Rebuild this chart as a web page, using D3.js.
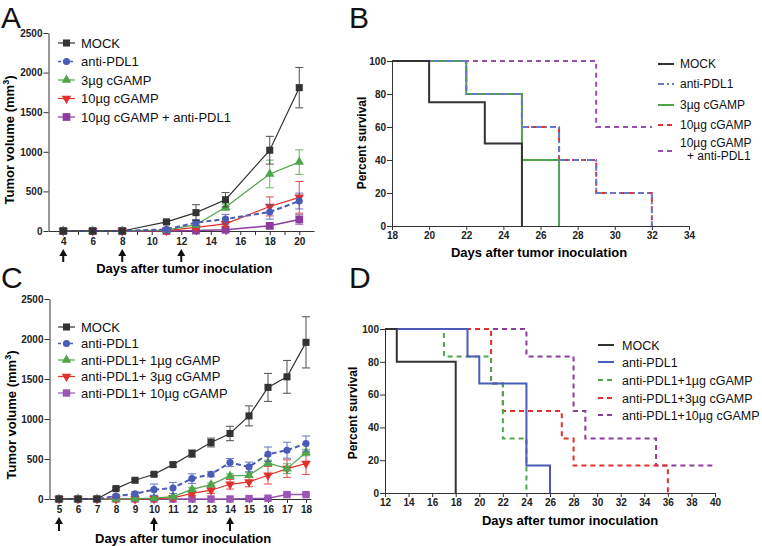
<!DOCTYPE html>
<html>
<head>
<meta charset="utf-8">
<script src="https://cdn.jsdelivr.net/npm/d3@7"></script>
<style>
  body { margin: 0; background: #fff; }
  svg { font-family: Arial, "Liberation Sans", sans-serif; }
  .tick text { font-weight: bold; font-size: 10px; fill: #222; }
  .domain, .tick line { stroke: #333; stroke-width: 1; }
</style>
</head>
<body>
<script>
// ---- panel A : tumor growth ----
var daysA = [4, 6, 8, 11, 13, 15, 18, 20];
var mockA = [0, 0, 0, 115, 232, 395, 1020, 1810];
var mockAErr = [0, 0, 0, 20, 100, 90, 175, 255];
var pdl1A = [0, 0, 0, 20, 106, 150, 240, 378];
var pdl1AErr = [0, 0, 0, 10, 40, 60, 90, 100];
var cg3A = [0, 0, 0, 10, 80, 300, 720, 870];
var cg3AErr = [0, 0, 0, 5, 30, 40, 175, 155];
var cg10A = [0, 0, 0, 5, 45, 90, 310, 425];
var cg10AErr = [0, 0, 0, 5, 20, 30, 120, 200];
var comboA = [0, 0, 0, 0, 5, 15, 65, 145];
var comboAErr = [0, 0, 0, 0, 5, 10, 35, 60];
var namesA = ["MOCK", "anti-PDL1", "3\u00b5g cGAMP", "10\u00b5g cGAMP", "10\u00b5g cGAMP + anti-PDL1"];
var arrowsA = [4, 8, 12];

// ---- panel B : survival ----
var namesB = ["MOCK", "anti-PDL1", "3\u00b5g cGAMP", "10\u00b5g cGAMP", "10\u00b5g cGAMP"];
var mockBT = [18, 20, 23, 25], mockBS = [100, 75, 50, 0];
var pdl1BT = [18, 22, 25, 27, 29, 32], pdl1BS = [100, 80, 60, 40, 20, 0];
var cg3BT = [18, 22, 25, 27], cg3BS = [100, 80, 40, 0];
var cg10BT = [18, 22, 25, 27, 29, 32], cg10BS = [100, 80, 60, 40, 20, 0];
var comboBT = [18, 29, 32], comboBS = [100, 60, 60];

// ---- panel C : tumor growth ----
var daysC = [5, 6, 7, 8, 9, 10, 11, 12, 13, 14, 15, 16, 17, 18];
var mockC = [0, 0, 0, 130, 234, 309, 430, 568, 706, 819, 1039, 1395, 1527, 1958];
var mockCErr = [0, 0, 0, 10, 15, 20, 25, 45, 55, 90, 125, 175, 205, 320];
var pdl1C = [0, 0, 0, 38, 65, 117, 138, 255, 309, 455, 401, 560, 610, 693];
var pdl1CErr = [0, 0, 0, 15, 25, 70, 70, 60, 30, 50, 60, 90, 100, 95];
var cg1C = [0, 0, 0, 0, 5, 10, 30, 120, 180, 288, 297, 451, 380, 581];
var cg1CErr = [0, 0, 0, 0, 5, 5, 10, 20, 20, 25, 30, 35, 60, 40];
var cg3C = [0, 0, 0, 0, 0, 5, 15, 70, 110, 184, 213, 297, 380, 443];
var cg3CErr = [0, 0, 0, 0, 0, 5, 10, 25, 40, 60, 60, 110, 110, 135];
var cg10C = [0, 0, 0, 0, 0, 0, 0, 0, 0, 0, 5, 10, 55, 55];
var cg10CErr = [0, 0, 0, 0, 0, 0, 0, 0, 0, 0, 5, 5, 10, 10];
var namesC = ["MOCK", "anti-PDL1", "anti-PDL1+ 1\u00b5g cGAMP", "anti-PDL1+ 3\u00b5g cGAMP", "anti-PDL1+ 10\u00b5g cGAMP"];
var arrowsC = [5, 10, 14];

// ---- panel D : survival ----
var namesD = ["MOCK", "anti-PDL1", "anti-PDL1+1\u00b5g cGAMP", "anti-PDL1+3\u00b5g cGAMP", "anti-PDL1+10\u00b5g cGAMP"];
var mockDT = [12, 13, 18], mockDS = [100, 80, 0];
var pdl1DT = [12, 19, 20, 24, 26], pdl1DS = [100, 83.3, 66.7, 16.7, 0];
var cg1DT = [12, 17, 21, 22, 24], cg1DS = [100, 83.3, 66.7, 33.3, 0];
var cg3DT = [12, 21, 22, 27, 28, 36], cg3DS = [100, 66.7, 50, 33.3, 16.7, 0];
var cg10DT = [12, 24, 28, 29, 35, 40], cg10DS = [100, 83.3, 50, 33.3, 16.7, 16.7];

var dark = "#333333", blue = "#4a5bb8", green = "#4ea64a", red = "#e3302b", purple = "#8b3c9e";

var svg = d3.select("body").append("svg")
    .attr("width", 762)
    .attr("height", 546);

// panel letters
[["A", 1, 28], ["B", 349, 28], ["C", 1, 288], ["D", 349, 288]].forEach(function (l) {
    svg.append("text").attr("x", l[1]).attr("y", l[2])
        .attr("font-size", 30).attr("fill", "#111").text(l[0]);
});

function upArrow(g, x, y0, y1) {
    g.append("path")
        .attr("d", `M${x},${y0} L${x - 4},${y0 + 7} L${x - 1},${y0 + 7} L${x - 1},${y1} L${x + 1},${y1} L${x + 1},${y0 + 7} L${x + 4},${y0 + 7} Z`)
        .attr("fill", "#111");
}

function growthPanel(p) {
    var g = svg.append("g");
    var x = d3.scaleLinear().domain(p.xDomain).range(p.xRange);
    var y = d3.scaleLinear().domain([0, 2500]).range(p.yRange);

    g.append("g")
        .attr("transform", `translate(0,${p.yRange[0]})`)
        .call(d3.axisBottom(x).tickValues(p.xTicks).tickSize(4).tickSizeOuter(0).tickPadding(3)
            .tickFormat(p.xFormat));
    g.append("g")
        .attr("transform", `translate(${p.xRange[0]},0)`)
        .call(d3.axisLeft(y).tickValues([0, 500, 1000, 1500, 2000, 2500]).tickFormat(d3.format("d"))
            .tickSize(5).tickSizeOuter(0).tickPadding(1));

    // series back to front
    p.series.slice().reverse().forEach(function (s) {
        var pts = p.days.map(function (d, i) { return { d: d, v: s.vals[i], e: s.errs[i] }; });
        var line = d3.line().x(d => x(d.d)).y(d => y(d.v));
        g.append("path").datum(pts)
            .attr("d", line)
            .attr("fill", "none")
            .attr("stroke", s.color)
            .attr("stroke-width", s.width)
            .attr("stroke-dasharray", s.dash);
        var eb = g.append("g").attr("stroke", s.color).attr("stroke-width", 1).attr("opacity", 0.85);
        pts.filter(d => d.e > 0).forEach(function (d) {
            eb.append("line").attr("x1", x(d.d)).attr("x2", x(d.d)).attr("y1", y(d.v - d.e)).attr("y2", y(d.v + d.e));
            eb.append("line").attr("x1", x(d.d) - 4).attr("x2", x(d.d) + 4).attr("y1", y(d.v + d.e)).attr("y2", y(d.v + d.e));
            eb.append("line").attr("x1", x(d.d) - 4).attr("x2", x(d.d) + 4).attr("y1", y(d.v - d.e)).attr("y2", y(d.v - d.e));
        });
        g.selectAll(null).data(pts).enter().append("path")
            .attr("d", d3.symbol().type(s.symbol).size(s.size))
            .attr("transform", d => `translate(${x(d.d)},${y(d.v)}) rotate(${s.rot})`)
            .attr("fill", s.color);
    });

    // legend
    p.series.forEach(function (s, i) {
        var ly = p.legY + i * p.legStep;
        var lg = g.append("g");
        lg.append("line").attr("x1", 58).attr("x2", 75).attr("y1", ly).attr("y2", ly)
            .attr("stroke", s.color).attr("stroke-width", s.dash ? 1.5 : 1.2).attr("stroke-dasharray", s.dash ? "3,3" : null);
        lg.append("path").attr("d", d3.symbol().type(s.symbol).size(s.size))
            .attr("transform", `translate(66.5,${ly}) rotate(${s.rot})`).attr("fill", s.color);
        lg.append("text").attr("x", 81).attr("y", ly + 4.5).attr("font-size", 13).attr("fill", "#111").text(s.name);
    });

    // treatment arrows
    p.arrows.forEach(function (d) { upArrow(g, x(d), p.arrowY[0], p.arrowY[1]); });

    g.append("text")
        .attr("x", (p.xRange[0] + p.xRange[1]) / 2 + 3).attr("y", p.xLabelY)
        .attr("text-anchor", "middle").attr("font-size", 13).attr("font-weight", "bold")
        .text("Days after tumor inoculation");

    var yl = g.append("text")
        .attr("transform", `translate(${p.yLabelX},${p.yLabelY}) rotate(-90)`)
        .attr("text-anchor", "middle").attr("font-size", 13).attr("font-weight", "bold");
    yl.append("tspan").text("Tumor volume (mm");
    yl.append("tspan").attr("dy", -5).attr("font-size", 9).text("3");
    yl.append("tspan").attr("dy", 5).text(")");
}

function survivalPanel(p) {
    var g = svg.append("g");
    var x = d3.scaleLinear().domain(p.xDomain).range(p.xRange);
    var y = d3.scaleLinear().domain([0, 100]).range(p.yRange);

    g.append("g")
        .attr("transform", `translate(0,${p.yRange[0]})`)
        .call(d3.axisBottom(x).tickValues(p.xTicks).tickSize(4).tickSizeOuter(0).tickPadding(2));
    g.append("g")
        .attr("transform", `translate(${p.xRange[0]},0)`)
        .call(d3.axisLeft(y).tickValues([0, 20, 40, 60, 80, 100]).tickSize(5).tickSizeOuter(0).tickPadding(1));

    var line = d3.line().curve(d3.curveStepAfter).x(d => x(d[0])).y(d => y(d[1]));
    p.order.forEach(function (i) {
        var s = p.series[i];
        g.append("path").datum(s.t.map((t, k) => [t, s.s[k]]))
            .attr("d", line)
            .attr("fill", "none")
            .attr("stroke", s.color)
            .attr("stroke-width", 2)
            .attr("stroke-dasharray", s.dash);
    });

    p.series.forEach(function (s, i) {
        var ly = p.legY[i];
        g.append("line").attr("x1", p.legX).attr("x2", p.legX + 16).attr("y1", ly).attr("y2", ly)
            .attr("stroke", s.color).attr("stroke-width", 2).attr("stroke-dasharray", s.dash);
    });
    p.legText.forEach(function (t) {
        g.append("text").attr("x", t[0]).attr("y", t[1]).attr("font-size", p.legFont).attr("fill", "#111").text(t[2]);
    });

    g.append("text")
        .attr("x", p.xLabelX).attr("y", p.xLabelY)
        .attr("text-anchor", "middle").attr("font-size", 13).attr("font-weight", "bold")
        .text("Days after tumor inoculation");
    g.append("text")
        .attr("transform", `translate(${p.yLabelX},${p.yLabelY}) rotate(-90)`)
        .attr("text-anchor", "middle").attr("font-size", 12).attr("font-weight", "bold")
        .text("Percent survival");
}

growthPanel({
    days: daysA,
    xDomain: [3, 21], xRange: [48.5, 314], yRange: [231, 33],
    xTicks: d3.range(4, 21),
    xFormat: d => d % 2 === 0 ? d : "",
    series: [
        { name: namesA[0], vals: mockA, errs: mockAErr, color: dark, width: 1.2, dash: null, symbol: d3.symbolSquare, size: 50, rot: 0 },
        { name: namesA[1], vals: pdl1A, errs: pdl1AErr, color: blue, width: 2, dash: "5,3", symbol: d3.symbolCircle, size: 40, rot: 0 },
        { name: namesA[2], vals: cg3A, errs: cg3AErr, color: green, width: 1.2, dash: null, symbol: d3.symbolTriangle, size: 40, rot: 0 },
        { name: namesA[3], vals: cg10A, errs: cg10AErr, color: red, width: 1.2, dash: null, symbol: d3.symbolTriangle, size: 40, rot: 180 },
        { name: namesA[4], vals: comboA, errs: comboAErr, color: purple, width: 1.5, dash: null, symbol: d3.symbolSquare, size: 60, rot: 0 }
    ],
    legY: 43, legStep: 18.5,
    arrows: arrowsA, arrowY: [249, 262],
    xLabelY: 273, yLabelX: 14, yLabelY: 140
});

growthPanel({
    days: daysC,
    xDomain: [4.5, 18.25], xRange: [49.5, 310.75], yRange: [499, 299],
    xTicks: daysC,
    xFormat: d => d,
    series: [
        { name: namesC[0], vals: mockC, errs: mockCErr, color: dark, width: 1.2, dash: null, symbol: d3.symbolSquare, size: 50, rot: 0 },
        { name: namesC[1], vals: pdl1C, errs: pdl1CErr, color: blue, width: 2, dash: "5,3", symbol: d3.symbolCircle, size: 40, rot: 0 },
        { name: namesC[2], vals: cg1C, errs: cg1CErr, color: green, width: 1.2, dash: null, symbol: d3.symbolTriangle, size: 40, rot: 0 },
        { name: namesC[3], vals: cg3C, errs: cg3CErr, color: red, width: 1.2, dash: null, symbol: d3.symbolTriangle, size: 40, rot: 180 },
        { name: namesC[4], vals: cg10C, errs: cg10CErr, color: "#9a55b5", width: 1.5, dash: null, symbol: d3.symbolSquare, size: 55, rot: 0 }
    ],
    legY: 327, legStep: 16.5,
    arrows: arrowsC, arrowY: [517, 531],
    xLabelY: 543, yLabelX: 16, yLabelY: 415
});

survivalPanel({
    xDomain: [18, 34], xRange: [392, 689], yRange: [226, 61],
    xTicks: d3.range(18, 35, 2),
    series: [
        { t: mockBT, s: mockBS, color: dark, dash: null },
        { t: pdl1BT, s: pdl1BS, color: "#6677cc", dash: "6,3,2,3" },
        { t: cg3BT, s: cg3BS, color: green, dash: null },
        { t: cg10BT, s: cg10BS, color: red, dash: "5,4" },
        { t: comboBT, s: comboBS, color: "#9a4fb0", dash: "5,4" }
    ],
    order: [4, 3, 2, 1, 0],
    legX: 658, legY: [64, 84, 105, 125, 151], legFont: 12,
    legText: [[680, 68, namesB[0]], [680, 88, namesB[1]], [680, 109, namesB[2]], [680, 129, namesB[3]],
              [680, 147, namesB[4]], [687, 160, "+ anti-PDL1"]],
    xLabelX: 539, xLabelY: 257, yLabelX: 366, yLabelY: 143
});

survivalPanel({
    xDomain: [12, 40], xRange: [385, 715], yRange: [493, 329],
    xTicks: d3.range(12, 41, 2),
    series: [
        { t: mockDT, s: mockDS, color: dark, dash: null },
        { t: pdl1DT, s: pdl1DS, color: blue, dash: null },
        { t: cg1DT, s: cg1DS, color: green, dash: "5,4" },
        { t: cg3DT, s: cg3DS, color: red, dash: "5,4" },
        { t: cg10DT, s: cg10DS, color: purple, dash: "5,4" }
    ],
    order: [4, 3, 2, 1, 0],
    legX: 598, legY: [345, 362, 380, 398, 415], legFont: 12.5,
    legText: namesD.map((n, i) => [622, [345, 362, 380, 398, 415][i] + 4.5, n]),
    xLabelX: 570, xLabelY: 525, yLabelX: 357, yLabelY: 413
});
</script>
</body>
</html>
